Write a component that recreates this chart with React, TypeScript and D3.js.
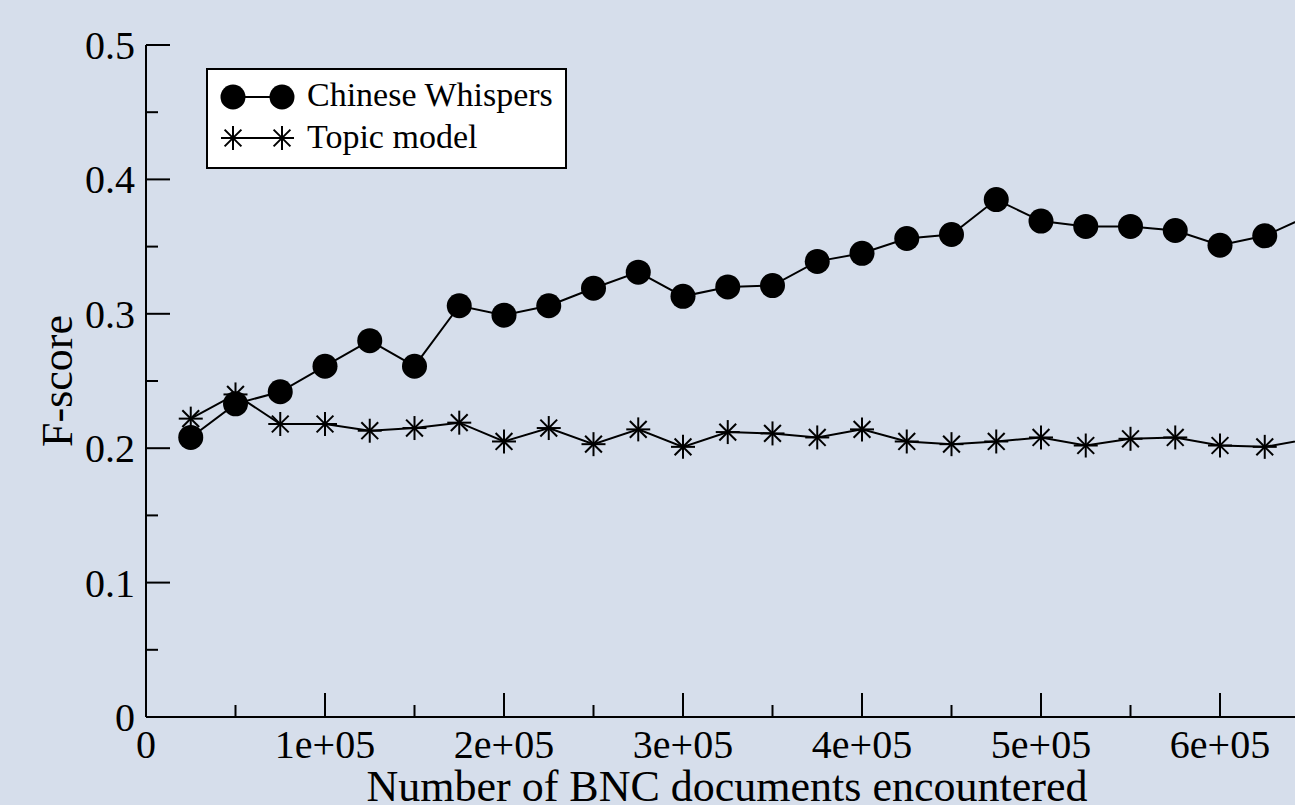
import * as d3 from 'd3';

// documents encountered (x) and F-scores
const docs = [25000, 50000, 75000, 100000, 125000, 150000, 175000, 200000, 225000, 250000,
  275000, 300000, 325000, 350000, 375000, 400000, 425000, 450000, 475000, 500000,
  525000, 550000, 575000, 600000, 625000, 650000];
const chineseWhispers = [0.208, 0.233, 0.242, 0.261, 0.280, 0.261, 0.306, 0.299, 0.306, 0.319,
  0.331, 0.313, 0.320, 0.321, 0.339, 0.345, 0.356, 0.359, 0.385, 0.369,
  0.365, 0.365, 0.362, 0.351, 0.358, 0.373];
const topicModel = [0.222, 0.240, 0.218, 0.218, 0.213, 0.215, 0.219, 0.205, 0.215, 0.203,
  0.214, 0.201, 0.212, 0.211, 0.208, 0.214, 0.205, 0.203, 0.205, 0.208,
  0.202, 0.207, 0.208, 0.202, 0.201, 0.207];
const yTicks = [0, 0.1, 0.2, 0.3, 0.4, 0.5];
const xTicks = [0, 100000, 200000, 300000, 400000, 500000, 600000];
const xTickLabels = ['0', '1e+05', '2e+05', '3e+05', '4e+05', '5e+05', '6e+05'];

const W = 1295;
const H = 805;
const serif = { fontFamily: "'Liberation Serif', 'Times New Roman', 'DejaVu Serif', serif" };

function Star({ cx, cy, r }: { cx: number; cy: number; r: number }) {
  const d = r * 0.7;
  return (
    <g stroke="#000" strokeWidth={2}>
      <line x1={cx} y1={cy - r} x2={cx} y2={cy + r} />
      <line x1={cx - r} y1={cy} x2={cx + r} y2={cy} />
      <line x1={cx - d} y1={cy - d} x2={cx + d} y2={cy + d} />
      <line x1={cx - d} y1={cy + d} x2={cx + d} y2={cy - d} />
    </g>
  );
}

export default function App() {
  const x = d3.scaleLinear().domain([0, 700000]).range([146, 146 + 179 * 7]);
  const y = d3.scaleLinear().domain([0, 0.5]).range([717, 45]);

  const line = d3.line<number>()
    .x((_, i) => x(docs[i]))
    .y(d => y(d));

  const minorY = d3.range(0.05, 0.5, 0.1);
  const minorX = d3.range(50000, 700000, 100000);

  return (
    <svg width={W} height={H} style={{ position: 'absolute', left: 0, top: 0, display: 'block' }}>
      <rect x={0} y={0} width={W} height={H} fill="#d6deeb" />

      {/* axes */}
      <line x1={146} y1={y(0.5)} x2={146} y2={717} stroke="#000" strokeWidth={2} />
      <line x1={146} y1={717} x2={W} y2={717} stroke="#000" strokeWidth={2} />
      {yTicks.map(t => (
        <g key={'yt' + t}>
          <line x1={146} x2={170} y1={y(t)} y2={y(t)} stroke="#000" strokeWidth={2} />
          <text x={135} y={y(t) + 14} textAnchor="end" fontSize={40} style={serif}>
            {t === 0 ? '0' : t.toFixed(1)}
          </text>
        </g>
      ))}
      {minorY.map(t => (
        <line key={'ym' + t} x1={146} x2={158} y1={y(t)} y2={y(t)} stroke="#000" strokeWidth={2} />
      ))}
      {xTicks.map((t, i) => (
        <g key={'xt' + t}>
          <line x1={x(t)} x2={x(t)} y1={717} y2={693} stroke="#000" strokeWidth={2} />
          <text x={x(t)} y={758} textAnchor="middle" fontSize={40} style={serif}>{xTickLabels[i]}</text>
        </g>
      ))}
      {minorX.map(t => (
        <line key={'xm' + t} x1={x(t)} x2={x(t)} y1={717} y2={705} stroke="#000" strokeWidth={2} />
      ))}

      <text x={727} y={801} textAnchor="middle" fontSize={44} style={serif}>Number of BNC documents encountered</text>
      <text transform={`translate(72,381) rotate(-90)`} textAnchor="middle" fontSize={44} style={serif}>F-score</text>

      {/* series */}
      <path d={line(topicModel) ?? ''} fill="none" stroke="#000" strokeWidth={2} />
      {topicModel.map((v, i) => <Star key={'tm' + i} cx={x(docs[i])} cy={y(v)} r={12} />)}
      <path d={line(chineseWhispers) ?? ''} fill="none" stroke="#000" strokeWidth={2} />
      {chineseWhispers.map((v, i) => (
        <circle key={'cw' + i} cx={x(docs[i])} cy={y(v)} r={12.5} fill="#000" />
      ))}

      {/* legend */}
      <rect x={207} y={69} width={359} height={99} fill="#fff" stroke="#000" strokeWidth={2} />
      <line x1={233} x2={282} y1={97} y2={97} stroke="#000" strokeWidth={2} />
      <circle cx={233} cy={97} r={12.5} fill="#000" />
      <circle cx={282} cy={97} r={12.5} fill="#000" />
      <text x={307} y={106} fontSize={34} style={serif}>Chinese Whispers</text>
      <line x1={233} x2={282} y1={138} y2={138} stroke="#000" strokeWidth={2} />
      <Star cx={233} cy={138} r={12} />
      <Star cx={282} cy={138} r={12} />
      <text x={307} y={148} fontSize={34} style={serif}>Topic model</text>
    </svg>
  );
}
